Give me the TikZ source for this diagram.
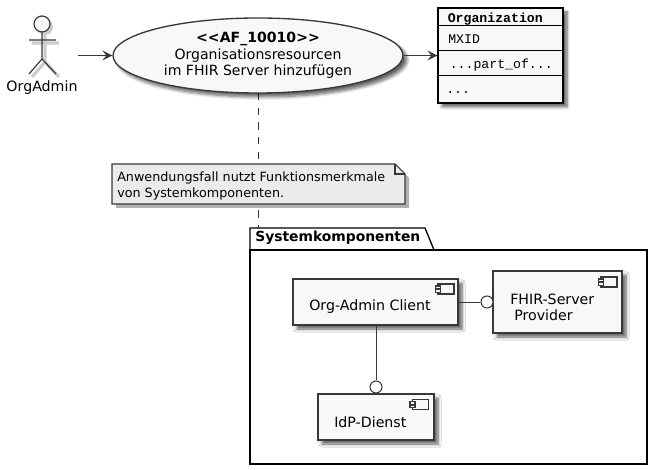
\documentclass[tikz,border=0pt]{standalone}
\usepackage{fontspec}
\setmainfont{DejaVu Sans}
\newfontfamily\umono{Liberation Mono}
\usetikzlibrary{shapes.geometric,arrows.meta,shadows.blur}
\definecolor{ink}{HTML}{383838}
\definecolor{pale}{HTML}{F8F8F8}
\definecolor{notefill}{HTML}{EBEBEB}
\newlength{\upx}\setlength{\upx}{0.75pt}
\tikzset{
  x=0.75pt,y=-0.75pt,
  softshadow/.style={blur shadow={shadow xshift=3pt,shadow yshift=-3pt,shadow blur radius=2.4pt,shadow opacity=62,shadow blur steps=7}},
  stroke/.style={draw=ink,line width=1pt},
  flow/.style={draw=ink,line width=0.75pt,-{Stealth[length=7.5pt,width=7.5pt,inset=3pt,fill=ink]}},
  link/.style={draw=ink,line width=0.7pt},
  dashlink/.style={draw=ink,line width=0.7pt,dash pattern=on 5.5pt off 5.5pt},
  usecase/.style={ellipse,stroke,fill=pale,softshadow,inner sep=0pt,minimum width=290\upx,minimum height=75\upx,align=center,font=\fontsize{10.55pt}{12.4pt}\selectfont},
  compbox/.style={rectangle,stroke,fill=pale,softshadow,inner sep=0pt},
  classbox/.style={rectangle,draw=black,line width=1pt,fill=pale,softshadow,inner sep=0pt},
  notebox/.style={draw=ink,fill=notefill,line width=0.8pt},
  ball/.style={circle,draw=ink,line width=0.8pt,fill=white,inner sep=0pt,minimum size=12\upx},
  body/.style={font=\fontsize{10.65pt}{12pt}\selectfont,inner sep=0pt},
  notetext/.style={font=\fontsize{9.55pt}{11.3pt}\selectfont,inner sep=0pt,align=left},
  monotext/.style={font=\umono\fontsize{9.9pt}{12pt}\selectfont,inner sep=0pt},
  icon/.style={draw=ink,line width=0.8pt,fill=pale},
}
\newcommand{\compicon}[2]{%
  \draw[icon] (#1,#2) rectangle ++(16,10);
  \draw[icon] (#1-2.5,#2+2) rectangle ++(5,2.6);
  \draw[icon] (#1-2.5,#2+5.6) rectangle ++(5,2.6);
}
\begin{document}
\begin{tikzpicture}
\useasboundingbox (0,0) rectangle (663,470);
% actor shadow
\begin{scope}[shift={(3,3)},draw=black!20,line width=2.4pt,fill=black!20]
  \fill (42,24) circle (8);
  \draw (29,40) -- (56,40) (42,32) -- (42,59) -- (29,74) (42,59) -- (56,74);
\end{scope}
\node[circle,draw=ink,line width=0.9pt,fill=pale,inner sep=0pt,minimum size=16\upx] (head) at (42,24) {};
\coordinate (hip) at (42,59);
\coordinate (armL) at (29,40);
\coordinate (armR) at (56,40);
\coordinate (footL) at (29,74);
\coordinate (footR) at (56,74);
\draw[link,line width=0.9pt] (head.south) -- (hip) -- (footL) (hip) -- (footR) (armL) -- (armR);
\node[body] (actor) at (42,88) {OrgAdmin};
% dashed relation under everything else
\coordinate (usecasebottom) at (258,93);
\coordinate (pkgtop) at (258,250);
\draw[dashlink] (usecasebottom) -- (pkgtop);
% use case
\node[usecase] (uc) at (258,55.5) {\textbf{{<}{<}AF\_10010{>}{>}}\\Organisationsresourcen\\im FHIR Server hinzufügen};
% class
\node[classbox,minimum width=125\upx,minimum height=95\upx] (cls) at (500.5,55.5) {};
\coordinate (l1) at (438,26);
\coordinate (l2) at (438,51);
\coordinate (l3) at (438,76);
\draw[black,line width=0.75pt] (l1) -- (l1-|cls.east) (l2) -- (l2-|cls.east) (l3) -- (l3-|cls.east);
\node[monotext,font=\umono\bfseries\fontsize{9.9pt}{12pt}\selectfont,anchor=base west] (t1) at (447.5,22.5) {Organization};
\node[monotext,anchor=base west] (t2) at (448,44) {MXID};
\node[monotext,anchor=base west] (t3) at (449.5,69) {...part\_of...};
\node[monotext,anchor=base west] (t4) at (446,94) {...};
% actor links
\coordinate (actorout) at (78,55.5);
\draw[flow] (actorout) -- (uc.west);
\draw[flow] (uc.east) -- (cls.west|-uc.east);
% note
\fill[black!30,shift={(4,4)}] (112,164) -- (395,164) -- (405,174) -- (405,204) -- (112,204) -- cycle;
\draw[notebox] (112,164) -- (395,164) -- (405,174) -- (405,204) -- (112,204) -- cycle;
\draw[draw=ink,line width=0.8pt] (395,164) -- (395,174) -- (405,174);
\node[notetext,anchor=north west] (note) at (117,172) {Anwendungsfall nutzt Funktionsmerkmale\\von Systemkomponenten.};
% package
\draw[black,line width=1pt,fill=white] (250,250) -- (250,228) -- (425,228) -- (434,250);
\node[rectangle,draw=black,line width=1pt,fill=white,inner sep=0pt,minimum width=397\upx,minimum height=214\upx] (pkg) at (448.5,357) {};
\node[body,font=\bfseries\fontsize{10.4pt}{12pt}\selectfont,anchor=west] (pkgname) at (255,238) {Systemkomponenten};
% components
\node[compbox,minimum width=165\upx,minimum height=46\upx] (client) at (375.5,302) {};
\node[compbox,minimum width=129\upx,minimum height=62\upx] (fhir) at (557.5,302) {};
\node[compbox,minimum width=116\upx,minimum height=46\upx] (idp) at (376,417) {};
\compicon{438}{284}
\compicon{601}{277}
\compicon{412.5}{399.5}
\node[body,anchor=west] (clienttext) at (309,307) {Org-Admin Client};
\node[body,anchor=west] (fhirtext1) at (510,299.5) {FHIR-Server};
\node[body,anchor=west] (fhirtext2) at (514,315) {Provider};
\node[body,anchor=west] (idptext) at (334,422) {IdP-Dienst};
% lollipops
\node[ball] (ballF) at (487,302) {};
\node[ball] (ballI) at (376,387) {};
\draw[link] (client.east) -- (ballF.west);
\draw[link] (client.south-|ballI) -- (ballI.north);
\end{tikzpicture}
\end{document}
